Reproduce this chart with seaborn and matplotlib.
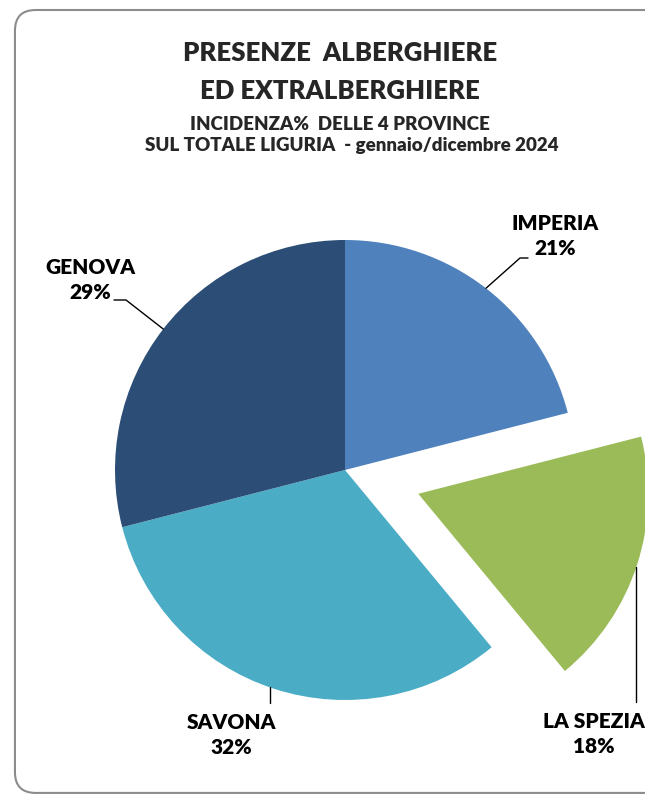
import numpy as np
import matplotlib
matplotlib.use('Agg')
import matplotlib.pyplot as plt
from matplotlib.patches import FancyBboxPatch
import seaborn as sns

sns.set_theme(style='white')
plt.rcParams['font.family'] = ['Lato', 'DejaVu Sans']

province = ['IMPERIA', 'LA SPEZIA', 'SAVONA', 'GENOVA']
quote = [21, 18, 32, 29]
colori = ['#4F81BD', '#9BBB59', '#4BACC6', '#2C4D75']
esploso = [0, 0.335, 0, 0]

fig = plt.figure(figsize=(6.45, 7.95), dpi=100)
ax = fig.add_axes([0, 0, 1, 1])

wedges, _ = ax.pie(quote, colors=colori, startangle=90, counterclock=False,
                   explode=esploso, radius=1, wedgeprops=dict(lw=0))
for w in wedges:
    w.set_zorder(2)

# 1 unit = 230 px, pie centre at (345, 470) px
ax.set_xlim(-345 / 230, 300 / 230)
ax.set_ylim(-325 / 230, 470 / 230)
ax.set_aspect('equal')
ax.axis('off')

# rounded frame (cut at right edge)
frame = FancyBboxPatch((-1.435, -1.404), 3.0, 3.404,
                       boxstyle='round,pad=0,rounding_size=0.09',
                       fc='white', ec='#8c8c8c', lw=1.5, zorder=0,
                       clip_on=False)
ax.add_patch(frame)

# labels with leader lines
def edge(i, frac=1.0):
    w = wedges[i]
    th = np.deg2rad((w.theta1 + w.theta2) / 2)
    cx, cy = w.center
    return cx + frac * np.cos(th), cy + frac * np.sin(th)

def px(x, y):
    return (x - 345) / 230, (470 - y) / 230

lab_font = dict(fontsize=15, fontweight='heavy', ha='center', va='center',
                linespacing=1.35, color='black', zorder=5)

# IMPERIA
p = edge(0)
a, b = px(520, 258), px(528, 258)
ax.plot([p[0], a[0], b[0]], [p[1], a[1], b[1]], color='black', lw=1, zorder=4)
t = px(555, 236)
ax.text(t[0], t[1], f'{province[0]}\n{quote[0]}%', **lab_font)

# LA SPEZIA
x0, y0 = px(636, 567)
x1, y1 = px(636, 702)
ax.plot([x0, x1], [y0, y1], color='black', lw=1, zorder=4)
t = px(594, 734)
ax.text(t[0], t[1], f'{province[1]}\n{quote[1]}%', **lab_font)

# SAVONA
x0, y0 = px(270, 687)
x1, y1 = px(270, 703)
ax.plot([x0, x1], [y0, y1], color='black', lw=1, zorder=4)
t = px(231, 735)
ax.text(t[0], t[1], f'{province[2]}\n{quote[2]}%', **lab_font)

# GENOVA
p = edge(3)
a, b = px(126, 300), px(114, 300)
ax.plot([p[0], a[0], b[0]], [p[1], a[1], b[1]], color='black', lw=1, zorder=4)
t = px(90, 280)
ax.text(t[0], t[1], f'{province[3]}\n{quote[3]}%', **lab_font)

# title
fig.text(340 / 645, 1 - 53 / 795, 'PRESENZE  ALBERGHIERE', fontsize=18.5,
         fontweight='heavy', ha='center', va='center')
fig.text(340 / 645, 1 - 91 / 795, 'ED EXTRALBERGHIERE', fontsize=18.5,
         fontweight='heavy', ha='center', va='center')
fig.text(340 / 645, 1 - 124 / 795, 'INCIDENZA%  DELLE 4 PROVINCE', fontsize=13.5,
         fontweight='heavy', ha='center', va='center')
fig.text(352 / 645, 1 - 146 / 795, 'SUL TOTALE LIGURIA  - gennaio/dicembre 2024',
         fontsize=13.5, fontweight='heavy', ha='center', va='center')

fig.savefig('out.png', dpi=100)
